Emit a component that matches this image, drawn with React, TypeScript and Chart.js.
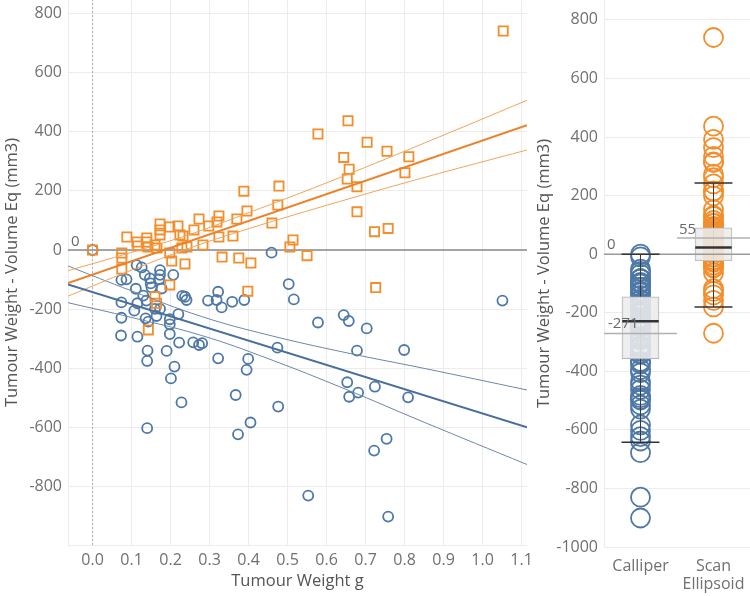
import React, { useEffect, useRef } from "react";
import { Chart, registerables } from "chart.js";
Chart.register(...registerables);

const FONT = '"Open Sans", "Noto Sans", sans-serif';
const BLUE = "#4e79a7";
const ORANGE = "#f28e2b";
const TICK_COLOR = "#707070";
const TITLE_COLOR = "#555555";
const GRID = "#ececec";

// ---- Scatter data (Tumour weight g, Tumour Weight - Volume Eq mm3) ----
const calliperX = [0, 0.074, 0.087, 0.113, 0.126, 0.111, 0.134, 0.147, 0.149, 0.173, 0.173, 0.171, 0.151, 0.177, 0.207, 0.13, 0.23, 0.237, 0.241, 0.074, 0.115, 0.138, 0.107, 0.16, 0.173, 0.164, 0.22, 0.198, 0.198, 0.074, 0.136, 0.143, 0.198, 0.073, 0.115, 0.222, 0.258, 0.273, 0.281, 0.141, 0.19, 0.14, 0.21, 0.201, 0.228, 0.14, 0.296, 0.318, 0.331, 0.322, 0.358, 0.389, 0.322, 0.367, 0.373, 0.405, 0.395, 0.399, 0.474, 0.476, 0.459, 0.503, 0.516, 0.578, 0.644, 0.657, 0.678, 0.653, 0.658, 0.681, 0.703, 0.799, 0.724, 0.809, 0.754, 0.722, 0.758, 0.553, 1.051];
const calliperY = [0, -101, -99, -51, -59, -131, -84, -96, -113, -68, -84, -99, -126, -130, -84, -154, -155, -158, -169, -177, -180, -171, -205, -199, -199, -223, -217, -234, -251, -229, -231, -242, -284, -289, -293, -313, -312, -321, -315, -340, -341, -375, -394, -434, -515, -602, -171, -169, -194, -141, -175, -169, -366, -490, -623, -583, -405, -368, -330, -529, -9, -115, -167, -245, -220, -240, -340, -447, -496, -482, -265, -338, -462, -498, -638, -678, -901, -830, -171];

const scanX = [0, 0.088, 0.075, 0.075, 0.075, 0.114, 0.116, 0.139, 0.139, 0.142, 0.16, 0.165, 0.173, 0.173, 0.173, 0.198, 0.198, 0.203, 0.198, 0.219, 0.224, 0.232, 0.229, 0.242, 0.237, 0.26, 0.273, 0.283, 0.298, 0.319, 0.324, 0.324, 0.332, 0.36, 0.37, 0.375, 0.388, 0.396, 0.406, 0.46, 0.475, 0.478, 0.506, 0.514, 0.398, 0.55, 0.16, 0.164, 0.143, 0.655, 0.578, 0.644, 0.658, 0.653, 0.678, 0.678, 1.053, 0.704, 0.755, 0.811, 0.801, 0.723, 0.758, 0.726];
const scanY = [0, 44, -10, -27, -64, 27, 14, 41, 27, 10, 17, 7, 88, 68, 51, 78, -10, -37, -118, 81, 51, 47, 7, 10, -47, 68, 105, 17, 81, 95, 115, 44, -24, 47, 105, -27, 199, 132, -44, 91, 152, 216, 10, 34, -139, -19, -158, -180, -270, 437, 392, 313, 273, 240, 214, 129, 740, 364, 334, 315, 261, 62, 73, -127];

// ---- Trend lines and confidence bands ----
const fitX = [-0.063, 1.114];
const calliperFit = [-116, -599];
const scanFit = [-112, 422];
const calliperBandX = [-0.063, 0.1, 0.28, 0.45, 0.65, 0.85, 1.114];
const calliperUpper = [-54, -138, -225, -287, -347, -400, -473];
const calliperLower = [-178, -228, -289, -367, -471, -582, -725];
const scanBandX = [-0.063, 0.1, 0.25, 0.4, 0.6, 0.85, 1.114];
const scanUpper = [-70, -8, 53, 126, 227, 361, 506];
const scanLower = [-156, -68, 7, 72, 151, 245, 338];

// ---- Box plot (whiskerLow, q1, median, q3, whiskerHigh) ----
const categories = ["Calliper", ["Scan", "Ellipsoid"]];
const categoryPos = [0.25, 0.75];
const calliperBox = [-642, -357, -229, -146, 0];
const scanBox = [-180, -23, 23, 90, 243];
const categoryMeans = [-271, 55];
const referenceValue = 0;

const yTitle = "Tumour Weight - Volume Eq (mm3)";
const xTitle = "Tumour Weight g";

const pts = (xs: number[], ys: number[]) => xs.map((x, i) => ({ x, y: ys[i] }));

const lineDs = (data: any[], color: string, width: number, order: number, extra: any = {}) => ({
  type: "scatter",
  data,
  showLine: true,
  pointRadius: 0,
  borderColor: color,
  borderWidth: width,
  backgroundColor: "transparent",
  fill: false,
  order,
  ...extra,
});

const zeroPadding = (s: any) => {
  s.paddingTop = 0;
  s.paddingBottom = 0;
  s.paddingLeft = 0;
  s.paddingRight = 0;
};

const refTextPlugin = (getItems: (chart: any) => { text: string; px: number; py: number }[]) => ({
  id: "refText",
  afterDatasetsDraw(chart: any) {
    const ctx = chart.ctx;
    ctx.save();
    ctx.font = `15px ${FONT}`;
    ctx.fillStyle = "#6a6a6a";
    ctx.textAlign = "left";
    ctx.textBaseline = "bottom";
    getItems(chart).forEach((it) => ctx.fillText(it.text, it.px, it.py));
    ctx.restore();
  },
});

const tickFont = { family: FONT, size: 16 };
const catFont = { family: FONT, size: 16, lineHeight: 1.1 };
const titleFont = { family: FONT, size: 16.5 };

export default function App() {
  const leftRef = useRef<HTMLCanvasElement>(null);
  const rightRef = useRef<HTMLCanvasElement>(null);

  useEffect(() => {
    const xMin = -0.063;
    const xMax = 1.114;
    const left = new Chart(leftRef.current as HTMLCanvasElement, {
      type: "scatter",
      data: {
        datasets: [
          lineDs([{ x: xMin, y: referenceValue }, { x: xMax, y: referenceValue }], "#8a8a8a", 1.5, 30) as any,
          lineDs([{ x: 0, y: -997 }, { x: 0, y: 845 }], "#b0b0b0", 1, 31, { borderDash: [2, 2] }) as any,
          lineDs(pts(scanBandX, scanUpper), "#f0a55a", 1, 4, { tension: 0.4 }) as any,
          lineDs(pts(scanBandX, scanLower), "#f0a55a", 1, 4, { tension: 0.4 }) as any,
          lineDs(pts(fitX, scanFit), "#ee8126", 2, 3) as any,
          lineDs(pts(calliperBandX, calliperUpper), "#6d87a6", 1, 4, { tension: 0.4 }) as any,
          lineDs(pts(calliperBandX, calliperLower), "#6d87a6", 1, 4, { tension: 0.4 }) as any,
          lineDs(pts(fitX, calliperFit), "#4a6f9c", 2, 3) as any,
          {
            type: "scatter",
            data: pts(calliperX, calliperY),
            pointStyle: "circle",
            pointRadius: 5,
            borderWidth: 1.8,
            borderColor: BLUE,
            backgroundColor: "transparent",
            order: 10,
          } as any,
          {
            type: "scatter",
            data: pts(scanX, scanY),
            pointStyle: "rect",
            pointRadius: 6.5,
            borderWidth: 1.8,
            borderColor: ORANGE,
            backgroundColor: "transparent",
            order: 9,
          } as any,
        ],
      },
      options: {
        animation: false,
        responsive: false,
        layout: { autoPadding: false, padding: { left: 0, right: 3, top: 0, bottom: 0 } },
        plugins: { legend: { display: false }, tooltip: { enabled: false } },
        scales: {
          x: {
            type: "linear",
            min: xMin,
            max: xMax,
            offset: false,
            grid: { color: GRID, drawTicks: false, offset: false },
            border: { display: true, color: GRID },
            ticks: {
              stepSize: 0.1,
              includeBounds: false,
              autoSkip: false,
              maxRotation: 0,
              padding: 6,
              color: TICK_COLOR,
              font: tickFont,
              callback: (v: any) => Number(v).toFixed(1),
            },
            title: { display: true, text: xTitle, color: TITLE_COLOR, font: titleFont, padding: { top: 4, bottom: 5 } },
            afterFit: (s: any) => {
              s.height = 51;
              zeroPadding(s);
            },
          },
          y: {
            type: "linear",
            min: -997,
            max: 845,
            grid: { color: GRID, drawTicks: false },
            border: { display: true, color: GRID },
            ticks: {
              stepSize: 200,
              includeBounds: false,
              padding: 6,
              color: TICK_COLOR,
              font: tickFont,
              callback: (v: any) => String(v),
            },
            title: { display: true, text: yTitle, color: TITLE_COLOR, font: titleFont, padding: { top: 2, bottom: 4 } },
            afterFit: (s: any) => {
              s.width = 68;
              zeroPadding(s);
            },
          },
        },
      } as any,
      plugins: [
        refTextPlugin((chart) => [
          { text: String(referenceValue), px: chart.chartArea.left + 3, py: chart.scales.y.getPixelForValue(referenceValue) - 1 },
        ]),
      ],
    });

    // ---- Right panel: box plots ----
    const half = 0.13;
    const boxes = [calliperBox, scanBox];
    const colors = [BLUE, ORANGE];
    const rightDatasets: any[] = [];
    [calliperY, scanY].forEach((vals, ci) => {
      rightDatasets.push({
        type: "scatter",
        data: vals.map((y) => ({ x: categoryPos[ci], y })),
        pointStyle: "circle",
        pointRadius: 9.5,
        borderWidth: 1.8,
        borderColor: colors[ci],
        backgroundColor: "transparent",
        order: 10,
      });
    });
    boxes.forEach((b, ci) => {
      const c = categoryPos[ci];
      rightDatasets.push(lineDs([{ x: c, y: b[0] }, { x: c, y: b[4] }], "#3a3a3a", 1, 8));
      rightDatasets.push(lineDs([{ x: c - half, y: b[0] }, { x: c + half, y: b[0] }], "#333333", 1.5, 2));
      rightDatasets.push(lineDs([{ x: c - half, y: b[4] }, { x: c + half, y: b[4] }], "#333333", 1.5, 2));
      rightDatasets.push(lineDs([{ x: c - half + 0.005, y: b[2] }, { x: c + half - 0.005, y: b[2] }], "#333333", 2.5, 1));
    });
    rightDatasets.push({
      type: "bar",
      data: boxes.map((b, ci) => ({ x: categoryPos[ci], y: [b[1], b[3]] })),
      backgroundColor: "rgba(236,236,236,0.88)",
      borderColor: "#b8b8b8",
      borderWidth: 1,
      borderSkipped: false,
      barThickness: 37,
      order: 6,
    });
    rightDatasets.push(lineDs([{ x: 0, y: referenceValue }, { x: 1, y: referenceValue }], "#9a9a9a", 1.5, 5));
    categoryMeans.forEach((m, ci) => {
      rightDatasets.push(lineDs([{ x: ci * 0.5, y: m }, { x: ci * 0.5 + 0.5, y: m }], "#b0b0b0", 1.5, 4));
    });

    const right = new Chart(rightRef.current as HTMLCanvasElement, {
      type: "scatter",
      data: { datasets: rightDatasets },
      options: {
        animation: false,
        responsive: false,
        layout: { autoPadding: false, padding: { left: 0, right: 0, top: 0, bottom: 0 } },
        plugins: { legend: { display: false }, tooltip: { enabled: false } },
        scales: {
          x: {
            type: "linear",
            min: 0,
            max: 1,
            offset: false,
            grid: { display: false, offset: false },
            border: { display: false },
            afterBuildTicks: (s: any) => {
              s.ticks = categoryPos.map((v) => ({ value: v }));
            },
            ticks: {
              autoSkip: false,
              maxRotation: 0,
              padding: 3,
              color: TICK_COLOR,
              font: catFont,
              callback: (_v: any, i: number) => categories[i] as any,
            },
            afterFit: (s: any) => {
              s.height = 49;
              zeroPadding(s);
            },
          },
          y: {
            type: "linear",
            min: -1000,
            max: 868,
            grid: { color: GRID, drawTicks: false },
            border: { display: true, color: GRID },
            ticks: {
              stepSize: 200,
              includeBounds: false,
              padding: 6,
              color: TICK_COLOR,
              font: tickFont,
              callback: (v: any) => String(v),
            },
            title: { display: true, text: yTitle, color: TITLE_COLOR, font: titleFont, padding: { top: 4, bottom: 4 } },
            afterFit: (s: any) => {
              s.width = 74;
              zeroPadding(s);
            },
          },
        },
      } as any,
      plugins: [
        refTextPlugin((chart) => {
          const xs = chart.scales.x;
          const ys = chart.scales.y;
          return [
            { text: String(referenceValue), px: chart.chartArea.left + 3, py: ys.getPixelForValue(referenceValue) - 2 },
            { text: String(categoryMeans[0]), px: xs.getPixelForValue(0) + 4, py: ys.getPixelForValue(categoryMeans[0]) - 2 },
            { text: String(categoryMeans[1]), px: xs.getPixelForValue(0.5) + 2, py: ys.getPixelForValue(categoryMeans[1]) - 1 },
          ];
        }),
      ],
    });

    return () => {
      left.destroy();
      right.destroy();
    };
  }, []);

  return (
    <div style={{ position: "absolute", left: 0, top: 0, width: 750, height: 596, background: "#ffffff" }}>
      <canvas ref={leftRef} width={530} height={596} style={{ position: "absolute", left: 0, top: 0, display: "block" }} />
      <canvas ref={rightRef} width={220} height={596} style={{ position: "absolute", left: 530, top: 0, display: "block" }} />
    </div>
  );
}
